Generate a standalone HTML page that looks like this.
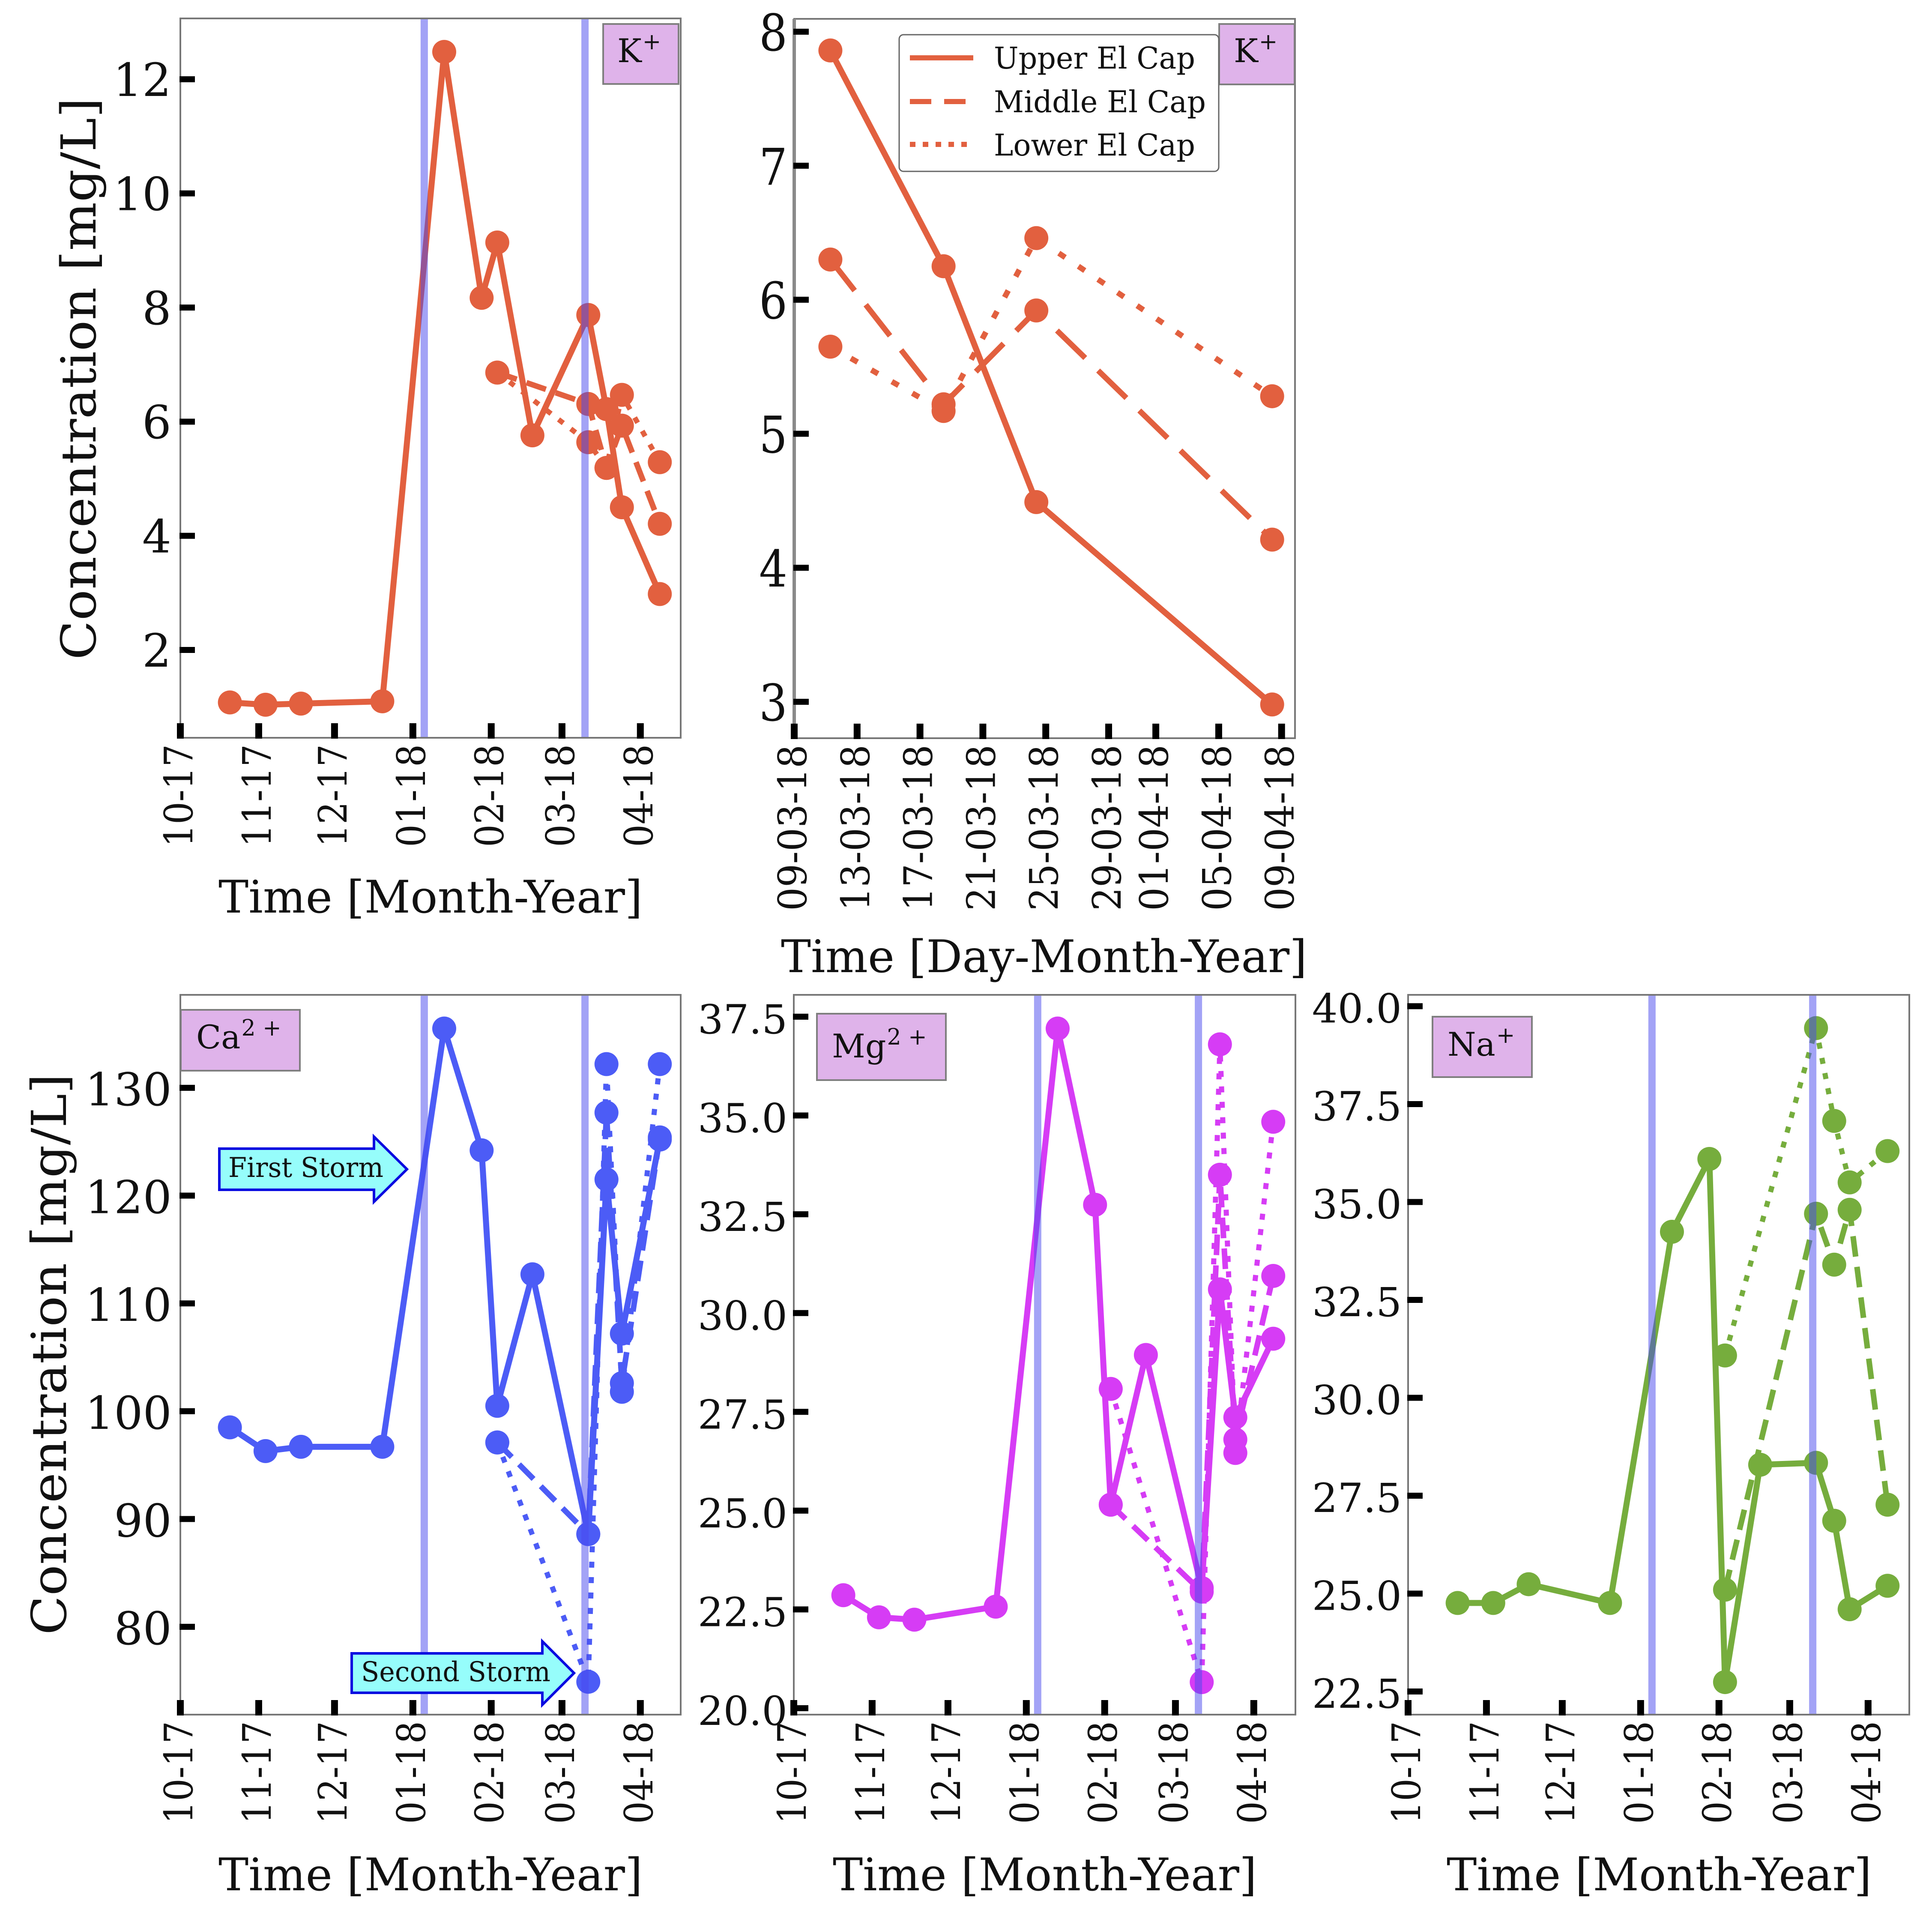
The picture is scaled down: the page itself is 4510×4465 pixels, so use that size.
<!DOCTYPE html>
<html lang="en">
<head>
<meta charset="utf-8">
<title>Ion concentration time series</title>
<style>
html,body{margin:0;padding:0;background:#fff}
svg{display:block}
text{font-family:"DejaVu Serif","Liberation Serif",serif;fill:#111}
</style>
</head>
<body>
<svg id="figure" xmlns="http://www.w3.org/2000/svg" width="4510" height="4465" viewBox="0 0 4510 4465"></svg>
<script>
// ---- shared axis data ----
const monthTickDays = [0, 31, 61, 92, 123, 151, 182];
const monthTickLabels = ['10-17', '11-17', '12-17', '01-18', '02-18', '03-18', '04-18'];
const stormDays = [96.5, 160.1];
const sampleDays = [19.6, 33.7, 47.7, 79.9, 104.4, 119.2, 125.4, 139.3, 161.4, 168.6, 174.7, 189.7];
const laterDays = [125.4, 161.4, 168.6, 174.7, 189.7];
const zoomTickDays = [0, 4, 8, 12, 16, 20, 23, 27, 31];
const zoomTickLabels = ['09-03-18', '13-03-18', '17-03-18', '21-03-18', '25-03-18', '29-03-18', '01-04-18', '05-04-18', '09-04-18'];
const zoomDays = [2.3, 9.5, 15.4, 30.4];

// ---- potassium ----
const kTicks = [2, 4, 6, 8, 10, 12];
const kUpper = [1.08, 1.04, 1.06, 1.10, 12.48, 8.17, 9.14, 5.76, 7.87, 6.22, 4.5, 2.98];
const kMiddle = [6.86, 6.31, 5.19, 5.93, 4.21];
const kLower = [6.86, 5.64, 5.19, 6.47, 5.29];

// ---- potassium, zoomed ----
const kZoomTicks = [3, 4, 5, 6, 7, 8];
const kZoomUpper = [7.86, 6.25, 4.49, 2.98];
const kZoomMiddle = [6.30, 5.22, 5.92, 4.21];
const kZoomLower = [5.65, 5.17, 6.46, 5.28];

// ---- calcium ----
const caTicks = [80, 90, 100, 110, 120, 130];
const caUpper = [98.5, 96.3, 96.7, 96.7, 135.5, 124.2, 100.5, 112.7, 88.6, 121.5, 107.2, 125.2];
const caMiddle = [97.1, 88.6, 127.7, 102.6, 125.4];
const caLower = [97.1, 74.9, 132.2, 101.8, 132.2];

// ---- magnesium ----
const mgTicks = [20, 22.5, 25, 27.5, 30, 32.5, 35, 37.5];
const mgUpper = [22.86, 22.3, 22.24, 22.57, 37.2, 32.74, 25.15, 28.94, 23.04, 30.6, 27.36, 29.35];
const mgMiddle = [25.15, 22.95, 33.5, 26.8, 30.94];
const mgLower = [28.08, 20.66, 36.8, 26.46, 34.84];

// ---- sodium ----
const naTicks = [22.5, 25, 27.5, 30, 32.5, 35, 37.5, 40];
const naUpper = [24.76, 24.76, 25.24, 24.76, 34.24, 36.1, 22.74, 28.29, 28.34, 26.86, 24.6, 25.2];
const naMiddle = [25.1, 34.7, 33.4, 34.8, 27.27];
const naLower = [31.08, 39.44, 37.07, 35.5, 36.3];

const NS = 'http://www.w3.org/2000/svg';
const fig = document.getElementById('figure');

function mk(parent, tag, name, attrs) {
  const el = document.createElementNS(NS, tag);
  
  
  for (const k in attrs) el.setAttribute(k, attrs[k]);
  parent.appendChild(el);
  return el;
}

function label(parent, name, str, x, y, size, opts) {
  opts = opts || {};
  const a = { x: x, y: y, 'font-size': size, 'text-anchor': opts.anchor || 'start' };
  if (opts.len) { a.textLength = opts.len; a.lengthAdjust = 'spacingAndGlyphs'; }
  if (opts.rot) a.transform = 'rotate(' + opts.rot + ' ' + x + ' ' + y + ')';
  const t = mk(parent, 'text', name, a);
  t.textContent = str;
  return t;
}

function drawSeries(g, name, xs, ys, color, sx, sy, width, dash) {
  const pts = xs.map((d, i) => sx(d) + ',' + sy(ys[i])).join(' ');
  const a = { points: pts, fill: 'none', stroke: color, 'stroke-width': width, 'stroke-linejoin': 'miter' };
  if (dash) a['stroke-dasharray'] = dash;
  mk(g, 'polyline', name + '-line', a);
  xs.forEach((d, i) => {
    mk(g, 'circle', name + '-point', { cx: sx(d), cy: sy(ys[i]), r: 28, fill: color });
  });
}

function drawPanel(p) {
  const g = mk(fig, 'g', p.name, {});
  const sx = d => p.left + d * p.pxPerDay;
  const sy = v => p.yRefPx - (v - p.yRef) * p.pxPerUnit;

  mk(g, 'rect', 'plot-background', { x: p.left, y: p.top, width: p.right - p.left, height: p.bottom - p.top, fill: '#fff' });

  // series
  p.series.forEach(s => drawSeries(g, s.name, s.xs, s.ys, p.color, sx, sy, s.width, s.dash));

  // storm markers
  (p.storms || []).forEach(d => {
    mk(g, 'rect', 'storm-line', { x: sx(d) - 8.5, y: p.top, width: 17, height: p.bottom - p.top, fill: '#4848ee', opacity: 0.5 });
  });

  // frame
  mk(g, 'rect', 'plot-frame', { x: p.left, y: p.top, width: p.right - p.left, height: p.bottom - p.top, fill: 'none', stroke: '#777', 'stroke-width': 4 });
  if (p.thickLeft) {
    mk(g, 'rect', 'left-spine', { x: p.left - 4, y: p.top, width: 8, height: p.bottom - p.top, fill: '#8a8a8a' });
  }

  // y axis
  p.yTicks.forEach(v => {
    mk(g, 'rect', 'y-tick', { x: p.left - 2, y: sy(v) - 7, width: 36, height: 14, fill: '#000' });
    label(g, 'y-tick-label', p.yFmt ? p.yFmt(v) : String(v), p.yLabelX, sy(v) + p.yLabelDy, p.yFont, { anchor: 'end', len: p.yLen ? p.yLen(v) : 0 });
  });

  // x axis
  p.xTicks.forEach((d, i) => {
    mk(g, 'rect', 'x-tick', { x: sx(d) - 8, y: p.bottom - 34, width: 16, height: 36, fill: '#000' });
    label(g, 'x-tick-label', p.xLabels[i], sx(d) + 28, p.bottom + 15, 92, { anchor: 'end', rot: -90, len: p.xLabelLen });
  });

  // axis titles
  label(g, 'x-axis-title', p.xTitle, p.xTitleX, p.xTitleY, 105, { len: p.xTitleLen });
  if (p.yTitleX) {
    label(g, 'y-axis-title', 'Concentration [mg/L]', p.yTitleX, p.yTitleY, 112, { rot: -90, len: p.yTitleLen });
  }

  // ion tag
  const t = p.tag;
  mk(g, 'rect', 'ion-tag-box', { x: t.x, y: t.y, width: t.w, height: t.h, fill: '#dfb3ea', stroke: '#7f7f7f', 'stroke-width': 4 });
  const tt = mk(g, 'text', 'ion-tag', { x: t.tx, y: t.ty, 'font-size': 76 });
  const base = mk(tt, 'tspan', 'ion-symbol', {});
  base.textContent = t.ion;
  const sup = mk(tt, 'tspan', 'ion-charge', { dy: -30, 'font-size': 52, dx: 2 });
  sup.textContent = t.charge;
  return g;
}

const tMonth = 'Time [Month-Year]';

drawPanel({
  name: 'potassium-panel', color: '#e2603f', left: 421, right: 1589, top: 43, bottom: 1722,
  pxPerDay: 5.9, yRef: 2, yRefPx: 1517, pxPerUnit: 133.2, storms: stormDays,
  yTicks: kTicks, yLabelX: 400, yLabelDy: 39, yFont: 107,
  xTicks: monthTickDays, xLabels: monthTickLabels, xLabelLen: 240,
  xTitle: tMonth, xTitleX: 510, xTitleY: 2130, xTitleLen: 990,
  yTitleX: 223, yTitleY: 1540, yTitleLen: 1312,
  tag: { x: 1408, y: 56, w: 176, h: 140, tx: 1441, ty: 145, ion: 'K', charge: '+' },
  series: [
    { name: 'upper-el-cap', xs: sampleDays, ys: kUpper, width: 14 },
    { name: 'middle-el-cap', xs: laterDays, ys: kMiddle, width: 13, dash: '48 24' },
    { name: 'lower-el-cap', xs: laterDays, ys: kLower, width: 12, dash: '14 22' }
  ]
});

const zoomPanel = drawPanel({
  name: 'potassium-zoom-panel', color: '#e2603f', left: 1854, right: 3023, top: 44, bottom: 1723,
  pxPerDay: 36.7, yRef: 3, yRefPx: 1638, pxPerUnit: 312.8, thickLeft: true,
  yTicks: kZoomTicks, yLabelX: 1838, yLabelDy: 44, yFont: 118, yLen: () => 66,
  xTicks: zoomTickDays, xLabels: zoomTickLabels, xLabelLen: 388,
  xTitle: 'Time [Day-Month-Year]', xTitleX: 1823, xTitleY: 2269, xTitleLen: 1228,
  tag: { x: 2846, y: 56, w: 176, h: 141, tx: 2880, ty: 145, ion: 'K', charge: '+' },
  series: [
    { name: 'upper-el-cap', xs: zoomDays, ys: kZoomUpper, width: 14 },
    { name: 'middle-el-cap', xs: zoomDays, ys: kZoomMiddle, width: 13, dash: '92 42' },
    { name: 'lower-el-cap', xs: zoomDays, ys: kZoomLower, width: 13, dash: '18 37' }
  ]
});

// legend
const legend = mk(zoomPanel, 'g', 'legend', {});
mk(legend, 'rect', 'legend-box', { x: 2099, y: 81, width: 746, height: 319, rx: 10, fill: '#fff', stroke: '#666', 'stroke-width': 3 });
[
  { id: 'upper', text: 'Upper El Cap', ly: 135, ty: 160, len: 470, w: 12, dash: '' },
  { id: 'middle', text: 'Middle El Cap', ly: 237, ty: 262, len: 495, w: 12, dash: '50 30' },
  { id: 'lower', text: 'Lower El Cap', ly: 337, ty: 363, len: 470, w: 12, dash: '13 17' }
].forEach(e => {
  const a = { x1: 2124, x2: 2272, y1: e.ly, y2: e.ly, stroke: '#e2603f', 'stroke-width': e.w };
  if (e.dash) a['stroke-dasharray'] = e.dash;
  mk(legend, 'line', 'legend-line-' + e.id, a);
  label(legend, 'legend-label-' + e.id, e.text, 2320, e.ty, 70, { len: e.len });
});

const caPanel = drawPanel({
  name: 'calcium-panel', color: '#4c5cf6', left: 421, right: 1589, top: 2322, bottom: 4002,
  pxPerDay: 5.9, yRef: 80, yRefPx: 3797, pxPerUnit: 25.16, storms: stormDays,
  yTicks: caTicks, yLabelX: 401, yLabelDy: 41, yFont: 106,
  xTicks: monthTickDays, xLabels: monthTickLabels, xLabelLen: 240,
  xTitle: tMonth, xTitleX: 510, xTitleY: 4412, xTitleLen: 990,
  yTitleX: 154, yTitleY: 3816, yTitleLen: 1310,
  tag: { x: 422, y: 2357, w: 278, h: 142, tx: 458, ty: 2447, ion: 'Ca', charge: '2 +' },
  series: [
    { name: 'upper-el-cap', xs: sampleDays, ys: caUpper, width: 14 },
    { name: 'middle-el-cap', xs: laterDays, ys: caMiddle, width: 13, dash: '48 24' },
    { name: 'lower-el-cap', xs: laterDays, ys: caLower, width: 12, dash: '14 22' }
  ]
});

// storm annotations
function stormArrow(name, x0, x1, tip, cy, halfBody, halfHead, txt, tx, ty, tlen) {
  const g = mk(caPanel, 'g', name, {});
  const d = [[x0, cy - halfBody], [x1, cy - halfBody], [x1, cy - halfHead], [tip, cy], [x1, cy + halfHead], [x1, cy + halfBody], [x0, cy + halfBody]]
    .map(p => p.join(',')).join(' ');
  mk(g, 'polygon', name + '-arrow', { points: d, fill: '#96fdfb', stroke: '#0a0ae0', 'stroke-width': 6 });
  label(g, name + '-label', txt, tx, ty, 64, { len: tlen });
}
stormArrow('first-storm', 512, 873, 950, 2729, 48, 76, 'First Storm', 533, 2747, 362);
stormArrow('second-storm', 821, 1266, 1340, 3905, 46, 74, 'Second Storm', 843, 3924, 442);

const fmt1 = v => v.toFixed(1);

drawPanel({
  name: 'magnesium-panel', color: '#d63cf5', left: 1853, right: 3024, top: 2322, bottom: 4002,
  pxPerDay: 5.9, yRef: 20, yRefPx: 3987, pxPerUnit: 92.23, storms: stormDays,
  yTicks: mgTicks, yFmt: fmt1, yLabelX: 1838, yLabelDy: 39, yFont: 94,
  xTicks: monthTickDays, xLabels: monthTickLabels, xLabelLen: 240,
  xTitle: tMonth, xTitleX: 1944, xTitleY: 4412, xTitleLen: 990,
  tag: { x: 1907, y: 2366, w: 301, h: 155, tx: 1942, ty: 2468, ion: 'Mg', charge: '2 +' },
  series: [
    { name: 'upper-el-cap', xs: sampleDays, ys: mgUpper, width: 14 },
    { name: 'middle-el-cap', xs: laterDays, ys: mgMiddle, width: 13, dash: '48 24' },
    { name: 'lower-el-cap', xs: laterDays, ys: mgLower, width: 12, dash: '14 22' }
  ]
});

drawPanel({
  name: 'sodium-panel', color: '#76ad3d', left: 3287, right: 4457, top: 2322, bottom: 4002,
  pxPerDay: 5.9, yRef: 22.5, yRefPx: 3948, pxPerUnit: 91.4, storms: stormDays,
  yTicks: naTicks, yFmt: fmt1, yLabelX: 3272, yLabelDy: 38, yFont: 94,
  xTicks: monthTickDays, xLabels: monthTickLabels, xLabelLen: 240,
  xTitle: tMonth, xTitleX: 3377, xTitleY: 4412, xTitleLen: 992,
  tag: { x: 3344, y: 2373, w: 232, h: 141, tx: 3379, ty: 2464, ion: 'Na', charge: '+' },
  series: [
    { name: 'upper-el-cap', xs: sampleDays, ys: naUpper, width: 14 },
    { name: 'middle-el-cap', xs: laterDays, ys: naMiddle, width: 13, dash: '48 24' },
    { name: 'lower-el-cap', xs: laterDays, ys: naLower, width: 12, dash: '14 22' }
  ]
});
</script>
</body>
</html>
